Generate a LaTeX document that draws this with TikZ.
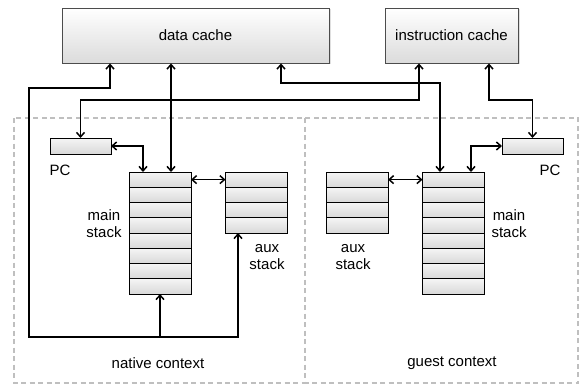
\documentclass[tikz,border=0pt]{standalone}
\usepackage{fontspec}
\setmainfont{Liberation Sans}
\usetikzlibrary{arrows.meta,shadows,calc}
\begin{document}
\begin{tikzpicture}[x=1pt,y=-1pt,
  font=\fontsize{15}{17}\selectfont,
  cache/.style={draw=black!70,line width=0.9pt,top color=white,bottom color=gray!28,
     drop shadow={opacity=0.25,shadow xshift=1.5pt,shadow yshift=-1.5pt},
     minimum height=55pt,inner sep=0pt},
  cell/.style={draw=black,line width=0.8pt,top color=gray!8,bottom color=gray!30,
     minimum width=62pt,minimum height=15.25pt,inner sep=0pt,outer sep=0pt},
  pcbox/.style={cell,minimum width=61pt,minimum height=16pt},
  ctx/.style={draw=gray!50,line width=2pt,dash pattern=on 5pt off 3.5pt},
  tip/.tip={Straight Barb[length=4.5pt,width=8pt,line width=1.5pt]},
  conn/.style={line width=1.6pt,arrows={tip-tip}},
  conn1/.style={line width=1.6pt,-tip},
  lbl/.style={align=center,inner sep=0pt}
]
\useasboundingbox (0,0) rectangle (580,385);
% context boxes
\draw[ctx] (14,118) rectangle (305,383);
\draw[ctx] (305,118) rectangle (578,383);
\node[lbl] (nctx) at (158,363) {native context};
\node[lbl] (gctx) at (452,363) {guest context};
% caches
\node[cache,minimum width=267pt] (dc) at (195.5,35.5) {data cache};
\node[cache,minimum width=133pt] (ic) at (451.5,35.5) {instruction cache};
% PCs
\node[pcbox] (lpc) at (80.5,146) {};
\node[lbl] (lpcl) at (60,170) {PC};
\node[pcbox] (rpc) at (532.5,146) {};
\node[lbl] (rpcl) at (550,170) {PC};
% stacks
\foreach \i in {1,...,8}{
  \node[cell] (nm\i) at (160,{172+7.625+15.25*(\i-1)}) {};
  \node[cell] (gm\i) at (453.5,{172+7.625+15.25*(\i-1)}) {};
}
\foreach \i in {1,...,4}{
  \node[cell] (na\i) at (256.5,{172+7.625+15.25*(\i-1)}) {};
  \node[cell] (ga\i) at (357,{172+7.625+15.25*(\i-1)}) {};
}
\node[lbl] (nml) at (104,224) {main\\stack};
\node[lbl] (gml) at (509,224) {main\\stack};
\node[lbl] (nal) at (267,257) {aux\\stack};
\node[lbl] (gal) at (353,257) {aux\\stack};
% connectors
\draw[conn] ([xshift=11pt]nm1.north) -- ([xshift=11pt]nm1.north |- dc.south);
\draw[conn] (nm1.east) -- (na1.west);
\draw[conn] (ga1.east) -- (gm1.west);
\draw[conn] (lpc.east) -| ([xshift=-17pt]nm1.north);
\draw[conn] (rpc.west) -| ([xshift=17.5pt]gm1.north);
\draw[conn] ([xshift=-32.5pt]ic.south) |- (80.5,100) -- (lpc.north);
\draw[conn] ([xshift=37.5pt]ic.south) |- (532.5,100) -- (rpc.north);
\draw[conn] ([xshift=85.5pt]dc.south) |- (440,83) -- ([xshift=-13.5pt]gm1.north);
\coordinate (J) at (160,337);
\draw[conn1] (J) -- (nm8.south);
\draw[conn1] (J) -| ([xshift=-18.5pt]na4.south);
\draw[conn1] (J) -- (29,337) -- (29,88) -| ([xshift=-85.5pt]dc.south);
\end{tikzpicture}
\end{document}
